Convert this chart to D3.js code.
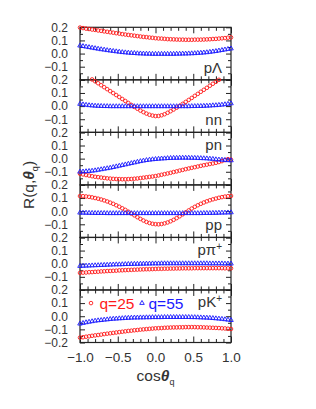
<!DOCTYPE html>
<html><head><meta charset="utf-8">
<script src="https://cdn.jsdelivr.net/npm/d3@7"></script>
<style>body{margin:0;background:#fff}svg{display:block}</style>
</head><body><svg id="c" width="316" height="409"></svg>
<script>
// ---------- data ----------
const cosTheta = [-1.00,-0.96,-0.92,-0.88,-0.84,-0.80,-0.76,-0.72,-0.68,-0.64,-0.60,-0.56,-0.52,-0.48,-0.44,-0.40,-0.36,-0.32,-0.28,-0.24,-0.20,-0.16,-0.12,-0.08,-0.04,0.00,0.04,0.08,0.12,0.16,0.20,0.24,0.28,0.32,0.36,0.40,0.44,0.48,0.52,0.56,0.60,0.64,0.68,0.72,0.76,0.80,0.84,0.88,0.92,0.96,1.00];

const panelNames = ["pΛ","nn","pn","pp","pπ","pK"];
const panelSup   = ["","","","","+","+"];
const seriesNames = ["q=25","q=55"];

const pLambda_q25 = [0.198,0.194,0.190,0.187,0.183,0.180,0.176,0.173,0.169,0.166,0.162,0.159,0.155,0.152,0.148,0.145,0.142,0.139,0.136,0.133,0.130,0.127,0.125,0.122,0.120,0.117,0.115,0.114,0.112,0.110,0.109,0.108,0.107,0.106,0.106,0.105,0.105,0.105,0.106,0.106,0.106,0.107,0.108,0.109,0.111,0.112,0.114,0.116,0.118,0.121,0.123];
const pLambda_q55 = [0.060,0.056,0.052,0.048,0.044,0.040,0.036,0.032,0.029,0.025,0.022,0.019,0.016,0.013,0.010,0.008,0.006,0.004,0.003,0.001,0.000,-0.001,-0.002,-0.002,-0.003,-0.003,-0.003,-0.003,-0.003,-0.003,-0.003,-0.003,-0.002,-0.002,-0.001,-0.001,0.000,0.001,0.002,0.004,0.005,0.007,0.009,0.012,0.015,0.018,0.022,0.026,0.030,0.034,0.038];

const nn_q25 = [0.262,0.247,0.232,0.217,0.203,0.189,0.174,0.159,0.144,0.129,0.114,0.099,0.084,0.069,0.054,0.039,0.024,0.009,-0.006,-0.020,-0.034,-0.046,-0.057,-0.066,-0.072,-0.076,-0.075,-0.070,-0.062,-0.051,-0.039,-0.026,-0.012,0.002,0.017,0.032,0.047,0.062,0.078,0.093,0.109,0.124,0.139,0.155,0.170,0.185,0.200,0.215,0.230,0.245,0.260];
const nn_q55 = [0.016,0.012,0.009,0.006,0.004,0.002,0.001,0.000,-0.001,-0.001,-0.002,-0.002,-0.002,-0.002,-0.002,-0.002,-0.002,-0.002,-0.002,-0.002,-0.002,-0.002,-0.002,-0.002,-0.002,-0.002,-0.002,-0.002,-0.002,-0.002,-0.002,-0.002,-0.002,-0.002,-0.002,-0.002,-0.002,-0.001,-0.001,0.000,0.000,0.001,0.002,0.003,0.005,0.006,0.008,0.010,0.013,0.016,0.020];

const pn_q25 = [-0.115,-0.120,-0.125,-0.129,-0.134,-0.138,-0.141,-0.144,-0.147,-0.150,-0.152,-0.154,-0.155,-0.156,-0.157,-0.157,-0.156,-0.155,-0.153,-0.151,-0.148,-0.145,-0.142,-0.139,-0.136,-0.133,-0.128,-0.123,-0.118,-0.113,-0.108,-0.102,-0.097,-0.091,-0.086,-0.080,-0.075,-0.070,-0.065,-0.060,-0.055,-0.050,-0.046,-0.041,-0.037,-0.032,-0.026,-0.019,-0.011,-0.004,-0.008];
const pn_q55 = [-0.100,-0.099,-0.097,-0.095,-0.093,-0.090,-0.086,-0.082,-0.078,-0.074,-0.070,-0.065,-0.060,-0.055,-0.050,-0.045,-0.040,-0.035,-0.030,-0.025,-0.020,-0.016,-0.012,-0.009,-0.006,-0.004,-0.002,0.000,0.001,0.003,0.004,0.005,0.005,0.006,0.006,0.006,0.006,0.005,0.005,0.004,0.003,0.002,0.001,-0.001,-0.003,-0.006,-0.008,-0.009,-0.011,-0.013,-0.014];

const pp_q25 = [0.115,0.114,0.112,0.109,0.105,0.100,0.095,0.089,0.082,0.074,0.065,0.056,0.045,0.034,0.022,0.010,-0.004,-0.018,-0.032,-0.046,-0.059,-0.071,-0.082,-0.090,-0.096,-0.099,-0.100,-0.098,-0.093,-0.086,-0.077,-0.066,-0.053,-0.039,-0.024,-0.009,0.006,0.020,0.033,0.045,0.056,0.066,0.075,0.083,0.090,0.096,0.102,0.107,0.111,0.114,0.116];
const pp_q55 = [-0.012,-0.013,-0.013,-0.014,-0.014,-0.015,-0.015,-0.015,-0.015,-0.016,-0.016,-0.016,-0.016,-0.016,-0.016,-0.016,-0.016,-0.016,-0.016,-0.016,-0.016,-0.016,-0.016,-0.016,-0.016,-0.016,-0.016,-0.016,-0.016,-0.016,-0.016,-0.016,-0.016,-0.016,-0.016,-0.016,-0.016,-0.016,-0.016,-0.016,-0.016,-0.015,-0.015,-0.015,-0.014,-0.014,-0.013,-0.012,-0.012,-0.011,-0.010];

const ppi_q25 = [-0.070,-0.068,-0.067,-0.065,-0.064,-0.062,-0.061,-0.059,-0.058,-0.056,-0.055,-0.054,-0.053,-0.051,-0.050,-0.049,-0.048,-0.047,-0.046,-0.045,-0.044,-0.043,-0.042,-0.042,-0.041,-0.040,-0.039,-0.039,-0.038,-0.038,-0.037,-0.037,-0.036,-0.036,-0.035,-0.035,-0.035,-0.035,-0.034,-0.034,-0.034,-0.034,-0.034,-0.034,-0.034,-0.034,-0.034,-0.034,-0.035,-0.035,-0.035];
const ppi_q55 = [-0.018,-0.017,-0.016,-0.015,-0.014,-0.013,-0.012,-0.011,-0.010,-0.009,-0.008,-0.007,-0.006,-0.006,-0.005,-0.004,-0.003,-0.003,-0.002,-0.002,-0.001,-0.001,0.000,0.000,0.001,0.001,0.001,0.002,0.002,0.002,0.002,0.002,0.002,0.002,0.002,0.002,0.002,0.002,0.002,0.002,0.002,0.002,0.002,0.001,0.001,0.001,0.001,0.001,0.000,0.000,0.000];

const pK_q25 = [-0.163,-0.160,-0.156,-0.153,-0.149,-0.146,-0.143,-0.140,-0.136,-0.133,-0.130,-0.127,-0.124,-0.121,-0.118,-0.115,-0.112,-0.110,-0.107,-0.105,-0.102,-0.100,-0.098,-0.096,-0.094,-0.092,-0.091,-0.090,-0.088,-0.087,-0.086,-0.085,-0.085,-0.084,-0.084,-0.083,-0.083,-0.083,-0.083,-0.084,-0.084,-0.085,-0.086,-0.087,-0.088,-0.089,-0.090,-0.092,-0.093,-0.095,-0.097];
const pK_q55 = [-0.057,-0.052,-0.047,-0.043,-0.039,-0.035,-0.032,-0.030,-0.027,-0.025,-0.022,-0.020,-0.019,-0.017,-0.016,-0.014,-0.013,-0.012,-0.011,-0.011,-0.010,-0.010,-0.009,-0.009,-0.008,-0.008,-0.008,-0.008,-0.007,-0.007,-0.007,-0.007,-0.007,-0.007,-0.007,-0.007,-0.007,-0.008,-0.008,-0.009,-0.010,-0.011,-0.012,-0.013,-0.015,-0.017,-0.019,-0.021,-0.024,-0.027,-0.030];

const q25Series = [pLambda_q25, nn_q25, pn_q25, pp_q25, ppi_q25, pK_q25];
const q55Series = [pLambda_q55, nn_q55, pn_q55, pp_q55, ppi_q55, pK_q55];

const xTickValues = [-1,-0.5,0,0.5,1];
const xTickLabels = ["\u22121.0","\u22120.5","0.0","0.5","1.0"];
const xMinorValues = [-0.9,-0.8,-0.7,-0.6,-0.4,-0.3,-0.2,-0.1,0.1,0.2,0.3,0.4,0.6,0.7,0.8,0.9];
const yTickValues = [0.2,0.1,0,-0.1,-0.2];
const yTickLabels = ["0.2","0.1","0.0","\u22120.1","\u22120.2"];
const yMinorValues = [0.15,0.05,-0.05,-0.15];

// ---------- layout ----------
const svg = d3.select("#c");
const L = 80, R = 231, T = 27.3, B = 342.5;
const nP = 6, PH = (B - T) / nP;
const FONT = "'Liberation Sans', Arial, Helvetica, sans-serif";
const AX = "#222";
const TXT = "#333";
const RED = "#ff1a1a", BLUE = "#1a1aff";

const x = d3.scaleLinear().domain([-1, 1]).range([L, R]);

function styleAxis(g, w) {
  g.select(".domain").remove();
  g.selectAll("line").attr("stroke", AX).attr("stroke-width", w);
}

for (let i = 0; i < nP; i++) {
  const top = T + i * PH, bot = T + (i + 1) * PH;
  const y = d3.scaleLinear().domain([-0.2, 0.2]).range([bot, top]);
  const g = svg.append("g");

  // ticks (inward)
  g.append("g").attr("transform", `translate(${L},0)`)
    .call(d3.axisLeft(y).tickValues(yTickValues).tickSize(-5).tickFormat("")).call(s => styleAxis(s, 1));
  g.append("g").attr("transform", `translate(${L},0)`)
    .call(d3.axisLeft(y).tickValues(yMinorValues).tickSize(-3).tickFormat("")).call(s => styleAxis(s, 1));
  g.append("g").attr("transform", `translate(${R},0)`)
    .call(d3.axisRight(y).tickValues(yTickValues).tickSize(-5).tickFormat("")).call(s => styleAxis(s, 1));
  g.append("g").attr("transform", `translate(${R},0)`)
    .call(d3.axisRight(y).tickValues(yMinorValues).tickSize(-3).tickFormat("")).call(s => styleAxis(s, 1));
  g.append("g").attr("transform", `translate(0,${top})`)
    .call(d3.axisTop(x).tickValues(xTickValues).tickSize(-6).tickFormat("")).call(s => styleAxis(s, 1));
  g.append("g").attr("transform", `translate(0,${top})`)
    .call(d3.axisTop(x).tickValues(xMinorValues).tickSize(-3.5).tickFormat("")).call(s => styleAxis(s, 1));
  g.append("g").attr("transform", `translate(0,${bot})`)
    .call(d3.axisBottom(x).tickValues(xTickValues).tickSize(-6).tickFormat("")).call(s => styleAxis(s, 1));
  g.append("g").attr("transform", `translate(0,${bot})`)
    .call(d3.axisBottom(x).tickValues(xMinorValues).tickSize(-3.5).tickFormat("")).call(s => styleAxis(s, 1));

  // y tick labels
  const labVals = i === nP - 1 ? yTickValues : yTickValues.slice(0, 4);
  const yl = g.append("g").attr("transform", `translate(${L},0)`)
    .call(d3.axisLeft(y).tickValues(labVals).tickSize(0).tickPadding(12)
      .tickFormat(d => yTickLabels[yTickValues.indexOf(d)]));
  yl.select(".domain").remove();
  yl.selectAll("text").attr("font-family", FONT).attr("font-size", 12).attr("fill", TXT);

  // frame
  g.append("rect").attr("x", L).attr("y", top).attr("width", R - L).attr("height", PH)
    .attr("fill", "none").attr("stroke", AX).attr("stroke-width", 1.2);

  // data
  const d25 = cosTheta.map((c, k) => [c, q25Series[i][k]]).filter(d => d[1] <= 0.205 && d[1] >= -0.205);
  const d55 = cosTheta.map((c, k) => [c, q55Series[i][k]]).filter(d => d[1] <= 0.205 && d[1] >= -0.205);
  g.append("g").selectAll("circle").data(d25).join("circle")
    .attr("cx", d => x(d[0])).attr("cy", d => y(d[1])).attr("r", 1.8)
    .attr("fill", "none").attr("stroke", RED).attr("stroke-width", 0.9);
  const tri = d3.symbol().type(d3.symbolTriangle).size(9);
  g.append("g").selectAll("path").data(d55).join("path")
    .attr("transform", d => `translate(${x(d[0])},${y(d[1])})`).attr("d", tri)
    .attr("fill", "none").attr("stroke", BLUE).attr("stroke-width", 0.9);

  // panel label
  const lblY = (i === 2 || i === 4 || i === 5) ? top + 17.5 : top + 45.5;
  const t = g.append("text").attr("x", 222).attr("y", lblY).attr("text-anchor", "end")
    .attr("font-family", FONT).attr("font-size", 15).attr("fill", TXT);
  t.append("tspan").text(panelNames[i]);
  if (panelSup[i]) t.append("tspan").attr("font-size", 10).attr("dy", -5).text(panelSup[i]);

  // legend in last panel
  if (i === nP - 1) {
    const ly = y(0.1);
    g.append("circle").attr("cx", 91).attr("cy", ly).attr("r", 1.8)
      .attr("fill", "none").attr("stroke", RED).attr("stroke-width", 0.9);
    g.append("text").attr("x", 99.5).attr("y", ly + 5.5).attr("font-family", FONT).attr("font-size", 15.5)
      .attr("fill", RED).text(seriesNames[0]);
    g.append("path").attr("transform", `translate(142,${ly})`).attr("d", tri)
      .attr("fill", "none").attr("stroke", BLUE).attr("stroke-width", 0.9);
    g.append("text").attr("x", 148.5).attr("y", ly + 5.5).attr("font-family", FONT).attr("font-size", 15.5)
      .attr("fill", BLUE).text(seriesNames[1]);
  }

  // x tick labels on bottom panel
  if (i === nP - 1) {
    const xl = g.append("g").attr("transform", `translate(0,${bot})`)
      .call(d3.axisBottom(x).tickValues(xTickValues).tickSize(0).tickPadding(10)
        .tickFormat(d => xTickLabels[xTickValues.indexOf(d)]));
    xl.select(".domain").remove();
    xl.selectAll("text").attr("font-family", FONT).attr("font-size", 13.5).attr("fill", TXT);
  }
}

// axis titles
const xt = svg.append("text").attr("x", 155.5).attr("y", 381).attr("text-anchor", "middle")
  .attr("font-family", FONT).attr("font-size", 15.5).attr("fill", TXT);
xt.append("tspan").text("cos");
xt.append("tspan").attr("font-style", "italic").attr("font-weight", "bold").text("θ");
xt.append("tspan").attr("font-size", 9).attr("dy", 4).text("q");

const yt = svg.append("text").attr("transform", `translate(34,${185}) rotate(-90)`).attr("text-anchor", "middle")
  .attr("font-family", FONT).attr("font-size", 15.5).attr("fill", TXT);
yt.append("tspan").text("R(q,");
yt.append("tspan").attr("font-style", "italic").attr("font-weight", "bold").text("θ");
yt.append("tspan").attr("font-size", 9).attr("dy", 4).text("q");
yt.append("tspan").attr("dy", -4).text(")");
</script>
</body></html>
